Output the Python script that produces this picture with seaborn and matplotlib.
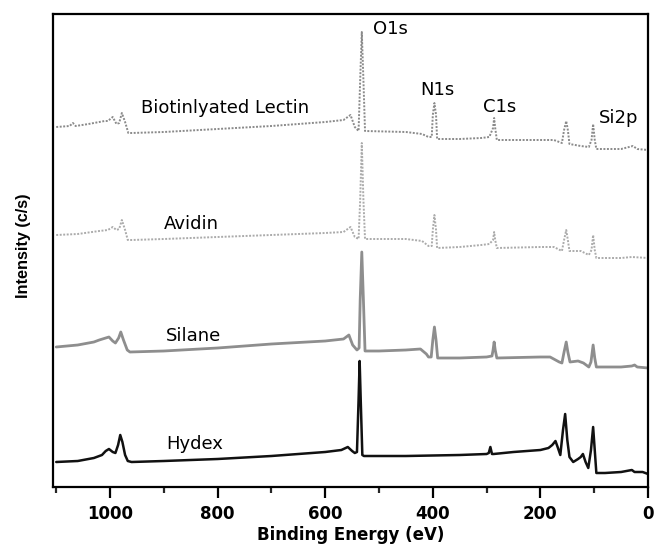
import matplotlib
matplotlib.use("Agg")
import matplotlib.pyplot as plt
from matplotlib.ticker import MultipleLocator
import numpy as np
import pandas as pd
import seaborn as sns

# XPS survey spectra (stacked, arbitrary intensity units), binding energy in eV
hydex_be = [1100, 1060, 1030, 1015, 1008, 1002, 995, 990, 985, 981, 977, 972, 967, 960,
            900, 800, 700, 600, 570, 558, 550, 545, 541, 538, 536, 534, 531, 528,
            450, 350, 300, 296, 293, 290, 287, 250, 200, 185, 178, 172, 168, 163,
            158, 154, 150, 146, 139, 130, 125, 121, 116, 111, 106, 102, 99, 96,
            80, 50, 30, 25, 10, 0]
hydex_int = [25, 26, 29, 32, 36, 38, 35, 34, 42, 52, 45, 32, 26, 25,
             26, 28, 31, 35, 37, 40, 36, 34, 35, 87, 126, 87, 32, 31,
             31, 32, 33, 34, 40, 33, 33, 35, 37, 39, 42, 46, 40, 32,
             57, 73, 47, 30, 25, 28, 30, 33, 25, 19, 37, 60, 37, 14,
             14, 15, 17, 15, 15, 13]

silane_be = [1100, 1060, 1030, 1020, 1008, 1002, 995, 990, 984, 980, 975, 968, 963,
             900, 800, 700, 600, 566, 556, 549, 541, 537, 535, 532, 529, 526,
             500, 450, 423, 412, 408, 403, 400, 397, 394, 391, 350, 300, 290,
             288, 286, 284, 281, 200, 182, 165, 160, 156, 152, 149, 145, 130,
             120, 110, 106, 102, 99, 96, 50, 30, 25, 20, 0]
silane_int = [140, 142, 145, 147, 149, 150, 146, 144, 149, 155, 147, 137, 135,
              136, 139, 143, 146, 148, 152, 142, 137, 139, 187, 235, 187, 136,
              136, 137, 138, 133, 130, 130, 147, 160, 147, 129, 129, 130, 131,
              137, 145, 137, 129, 130, 130, 125, 124, 135, 145, 135, 125, 126,
              124, 120, 125, 142, 129, 120, 120, 121, 122, 120, 119]

avidin_be = [1100, 1060, 1020, 1004, 995, 988, 983, 978, 972, 967, 960,
             900, 800, 700, 600, 566, 553, 545, 538, 535, 532, 529, 526,
             450, 420, 408, 402, 400, 397, 394, 392, 350, 310, 295, 288,
             286, 284, 281, 200, 175, 160, 156, 152, 149, 146, 125, 110,
             105, 102, 99, 96, 50, 30, 0]
avidin_int = [252, 253, 256, 257, 260, 257, 258, 267, 257, 247, 247,
              248, 250, 252, 254, 255, 260, 250, 248, 287, 344, 287, 248,
              248, 246, 241, 241, 257, 272, 257, 239, 240, 242, 243, 247,
              255, 247, 239, 240, 240, 236, 247, 257, 247, 236, 236, 232,
              237, 252, 237, 229, 229, 230, 229]

lectin_be = [1100, 1075, 1069, 1064, 1040, 1010, 1004, 995, 988, 983, 978, 972, 966, 960,
             900, 800, 700, 600, 566, 553, 545, 538, 535, 532, 529, 526,
             450, 420, 408, 402, 400, 397, 394, 392, 350, 310, 295, 288,
             286, 284, 281, 200, 175, 160, 156, 152, 149, 146, 125, 110,
             105, 102, 99, 96, 50, 28, 20, 0]
lectin_int = [360, 361, 364, 361, 363, 366, 366, 370, 363, 364, 374, 365, 354, 354,
              355, 358, 361, 365, 367, 372, 360, 356, 407, 455, 407, 356,
              355, 353, 350, 350, 372, 384, 372, 348, 348, 349, 350, 359,
              369, 359, 347, 347, 347, 344, 357, 366, 357, 343, 341, 340,
              347, 363, 347, 338, 338, 341, 338, 337]

sample_names = ["Hydex", "Silane", "Avidin", "Biotinlyated Lectin"]
peak_names = ["O1s", "N1s", "C1s", "Si2p"]

sns.set_theme(style="ticks")
plt.rcParams["font.family"] = ["DejaVu Sans"]

fig = plt.figure(figsize=(6.54, 5.48), dpi=100)
ax = fig.add_axes([53 / 654, 1 - 487 / 548, 595 / 654, 473 / 548])

spectra = [
    (hydex_be, hydex_int, dict(color="#111111", linewidth=1.8)),
    (silane_be, silane_int, dict(color="#8e8e8e", linewidth=2.0)),
    (avidin_be, avidin_int, dict(color="#ababab", linewidth=1.4, linestyle=(0, (1, 0.8)))),
    (lectin_be, lectin_int, dict(color="#8a8a8a", linewidth=1.4, linestyle=(0, (1, 0.8)))),
]
for name, (be, inten, style) in zip(sample_names, spectra):
    df = pd.DataFrame({"Binding Energy (eV)": be, "Intensity": inten})
    sns.lineplot(data=df, x="Binding Energy (eV)", y="Intensity", ax=ax,
                 sort=False, estimator=None, **style)

# sample labels
sample_label_pos = [(896, 43), (896, 151), (900, 263), (942, 379)]
for name, (x, y) in zip(sample_names, sample_label_pos):
    ax.text(x, y, name, ha="left", va="center", fontsize=13, color="black")

# core-level peak labels
peak_label_pos = [(512, 458), (423, 397), (306, 380), (91, 369)]
for name, (x, y) in zip(peak_names, peak_label_pos):
    ax.text(x, y, name, ha="left", va="center", fontsize=13, color="black")

ax.set_xlim(1106, 0)
ax.set_ylim(0, 473)
ax.xaxis.set_major_locator(MultipleLocator(200))
ax.xaxis.set_minor_locator(MultipleLocator(100))
ax.set_yticks([])
ax.tick_params(axis="x", which="major", direction="out", length=8, width=1.6,
               pad=5, labelsize=12, colors="black")
ax.tick_params(axis="x", which="minor", direction="out", length=4.5, width=1.6)
for lab in ax.get_xticklabels():
    lab.set_fontweight("bold")
for side in ["left", "right", "top", "bottom"]:
    ax.spines[side].set_visible(True)
    ax.spines[side].set_linewidth(1.6)
    ax.spines[side].set_color("black")

ax.set_xlabel("Binding Energy (eV)", fontsize=12, fontweight="bold", color="black")
ax.xaxis.set_label_coords(0.5, -0.082)
ax.set_ylabel("Intensity (c/s)", fontsize=11.7, fontweight="bold", color="black",
              family=["Liberation Sans", "DejaVu Sans"])
ax.yaxis.set_label_coords(-0.049, 0.51)
ax.xaxis.label.set_va("top")
ax.yaxis.label.set_va("center")

fig.savefig("out.png", dpi=100, facecolor="white")
